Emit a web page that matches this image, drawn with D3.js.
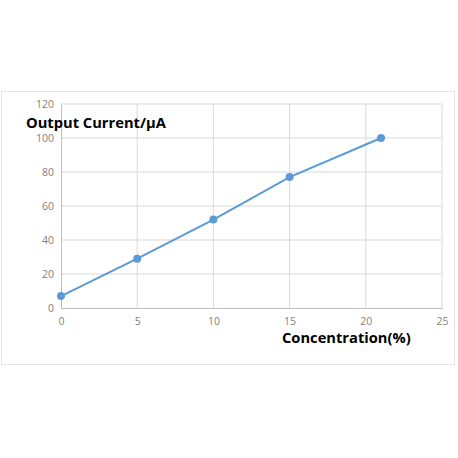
<!DOCTYPE html>
<html>
<head>
<meta charset="utf-8">
<script src="https://cdn.jsdelivr.net/npm/d3@7"></script>
<style>
  body { margin: 0; background: #fff; }
  .tick text { fill: #7f7f7f; font-family: "Open Sans", "DejaVu Sans", sans-serif; font-size: 10.5px; }
  .axis-title { font-family: "Open Sans", "DejaVu Sans", sans-serif; font-weight: bold; font-size: 14.7px; fill: #000; }
</style>
</head>
<body>
<script>
// data
const concentration = [0, 5, 10, 15, 21];
const current = [7, 29, 52, 77, 100];
const xTicks = [0, 5, 10, 15, 20, 25];
const yTicks = [0, 20, 40, 60, 80, 100, 120];

const points = concentration.map((c, i) => ({ c: c, v: current[i] }));

const svg = d3.select("body").append("svg")
  .attr("width", 458)
  .attr("height", 458);

// chart frame
svg.append("rect")
  .attr("x", 1.5).attr("y", 91.5)
  .attr("width", 453).attr("height", 273)
  .attr("fill", "#fff")
  .attr("stroke", "#e3e3e3");

const x = d3.scaleLinear().domain([0, 25]).range([61, 442]);
const y = d3.scaleLinear().domain([0, 120]).range([308, 104]);

// gridlines
svg.append("g")
  .selectAll("line.h")
  .data(yTicks.slice(1))
  .join("line")
  .attr("x1", x(0)).attr("x2", x(25))
  .attr("y1", d => y(d)).attr("y2", d => y(d))
  .attr("stroke", "#d9d9d9");

svg.append("g")
  .selectAll("line.v")
  .data(xTicks.slice(1))
  .join("line")
  .attr("x1", d => x(d)).attr("x2", d => x(d))
  .attr("y1", y(0)).attr("y2", y(120))
  .attr("stroke", "#d9d9d9");

// axes
const xAxis = svg.append("g")
  .attr("transform", `translate(0,${y(0)})`)
  .call(d3.axisBottom(x).tickValues(xTicks).tickSize(0).tickPadding(10));
xAxis.select(".domain").attr("stroke", "#bfbfbf");

const yAxis = svg.append("g")
  .attr("transform", `translate(${x(0)},0)`)
  .call(d3.axisLeft(y).tickValues(yTicks).tickSize(0).tickPadding(7));
yAxis.select(".domain").attr("stroke", "#bfbfbf");

// the series
const line = d3.line()
  .x(d => x(d.c))
  .y(d => y(d.v));

svg.append("path")
  .datum(points)
  .attr("fill", "none")
  .attr("stroke", "#5b9bd5")
  .attr("stroke-width", 2)
  .attr("d", line);

svg.append("g")
  .selectAll("circle")
  .data(points)
  .join("circle")
  .attr("cx", d => x(d.c))
  .attr("cy", d => y(d.v))
  .attr("r", 4)
  .attr("fill", "#5b9bd5");

// axis titles
svg.append("text")
  .attr("class", "axis-title")
  .attr("x", 26).attr("y", 128)
  .text("Output Current/μA");

svg.append("text")
  .attr("class", "axis-title")
  .attr("x", 282).attr("y", 343)
  .text("Concentration(%)");
</script>
</body>
</html>
